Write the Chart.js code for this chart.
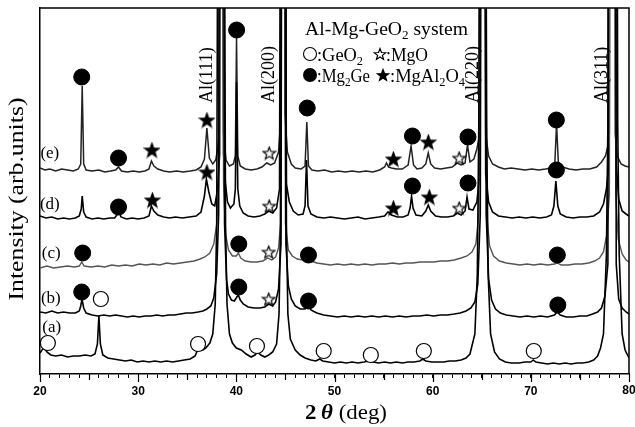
<!DOCTYPE html>
<html><head><meta charset="utf-8">
<script src="https://cdn.jsdelivr.net/npm/chart.js@4.4.1/dist/chart.umd.min.js"></script>
<style>html,body{margin:0;padding:0;background:#fff;}#wrap{width:635px;height:427px;}</style>
</head><body><div id="wrap"><canvas id="c" width="635" height="427"></canvas></div>
<script>
// ---------- data (2θ in deg, intensity in arb. units) ----------
const traceLabels = ['(a)', '(b)', '(c)', '(d)', '(e)'];
const traceLabelTheta = [21.2, 21.1, 21.15, 21.0, 21.0];
const traceLabelLevel = [46, 75, 120, 169, 220];

const traceA = [[20.0,21],[20.2,24],[20.45,26],[20.7,22],[21.1,19],[21.6,18],[22.2,19],[22.8,17],[23.4,18],[24.0,18],[24.6,19],[25.2,18],[25.6,20],[25.85,30],[26.0,58],[26.15,30],[26.4,19],[26.9,16],[27.5,15],[28.1,14],[28.7,13],[29.3,14],[29.9,12],[30.5,13],[31.1,12],[31.7,13],[32.3,12],[32.9,13],[33.5,12],[34.1,13],[34.7,14],[35.3,15],[35.8,18],[36.1,25],[36.3,27],[36.6,24],[36.9,26],[37.3,31],[37.6,40],[37.85,70],[38.0,150],[38.45,1500],[38.9,150],[39.05,70],[39.3,40],[39.6,31],[40.0,26],[40.5,24],[41.0,20],[41.5,17],[41.9,19],[42.15,22],[42.5,19],[42.9,17],[43.3,19],[43.7,22],[44.1,30],[44.35,60],[44.5,150],[44.8,1500],[45.1,150],[45.25,60],[45.5,35],[46.0,24],[46.5,19],[47.0,16],[47.6,14],[48.1,13],[48.5,15],[48.8,13],[49.4,12],[50.0,11],[50.6,12],[51.2,11],[51.8,12],[52.4,11],[53.0,12],[53.5,13],[53.9,12],[54.5,11],[55.1,12],[55.7,11],[56.3,12],[56.9,11],[57.5,12],[58.1,12],[58.7,13],[59.0,15],[59.3,13],[59.9,12],[60.5,12],[61.1,12],[61.7,13],[62.3,13],[62.9,14],[63.4,16],[63.8,20],[64.3,40],[64.55,100],[64.7,250],[65.1,1500],[65.5,250],[65.65,100],[65.9,40],[66.3,22],[66.8,15],[67.4,12],[68.0,11],[68.8,11],[69.4,12],[70.0,12],[70.25,14],[70.5,12],[71.1,11],[71.7,10],[72.3,11],[72.9,10],[73.5,11],[74.1,10],[74.7,11],[75.3,11],[75.9,12],[76.4,14],[76.8,18],[77.1,26],[77.4,40],[77.7,120],[77.85,250],[78.2,1500],[78.55,1500],[78.85,250],[79.0,120],[79.3,40],[79.6,24],[80.0,16]];

const traceB = [[20.0,62],[20.6,61],[21.2,63],[21.8,61],[22.4,62],[23.0,61],[23.6,61],[24.0,63],[24.15,68],[24.28,75],[24.45,66],[24.7,61],[25.3,59],[25.9,58],[26.5,59],[27.1,58],[27.7,59],[28.3,58],[28.9,57],[29.5,58],[30.1,57],[30.7,58],[31.3,58],[31.9,59],[32.5,58],[33.1,59],[33.7,59],[34.3,60],[34.9,61],[35.5,61],[36.1,62],[36.6,63],[37.0,65],[37.4,68],[37.7,76],[38.0,100],[38.2,160],[38.5,1500],[38.8,150],[39.0,95],[39.2,80],[39.5,74],[39.8,73],[40.05,77],[40.2,79],[40.4,74],[40.7,70],[41.2,67],[41.8,66],[42.4,66],[42.9,67],[43.3,70],[43.7,68],[44.0,72],[44.3,85],[44.55,130],[44.8,1500],[45.05,130],[45.3,88],[45.6,75],[46.0,68],[46.5,65],[47.0,65],[47.3,70],[47.6,64],[48.2,61],[48.9,59],[49.6,58],[50.3,57],[51.0,58],[51.7,57],[52.4,58],[53.1,57],[53.8,58],[54.5,57],[55.2,58],[55.9,57],[56.6,58],[57.3,57],[58.0,58],[58.7,58],[59.4,59],[60.1,58],[60.8,59],[61.5,59],[62.2,60],[62.8,61],[63.4,63],[63.9,66],[64.3,72],[64.6,90],[64.85,160],[65.15,1500],[65.45,160],[65.7,95],[66.0,74],[66.4,65],[66.9,61],[67.5,59],[68.2,58],[68.9,57],[69.6,58],[70.3,57],[71.0,58],[71.7,57],[72.4,59],[72.7,62],[73.0,59],[73.6,57],[74.3,57],[75.0,58],[75.7,58],[76.3,60],[76.8,62],[77.2,66],[77.55,78],[77.85,110],[78.05,1500],[78.45,1500],[78.7,110],[78.95,75],[79.3,66],[79.7,62],[80.0,60]];

const traceC = [[20.0,106],[20.7,108],[21.4,106],[22.1,107],[22.8,108],[23.5,107],[24.0,108],[24.25,112],[24.5,108],[25.2,107],[25.9,108],[26.6,107],[27.3,109],[28.0,108],[28.7,109],[29.4,108],[30.1,110],[30.8,109],[31.5,110],[32.2,109],[32.9,111],[33.6,110],[34.3,111],[35.0,112],[35.7,113],[36.3,115],[36.8,117],[37.3,121],[37.7,130],[38.0,150],[38.2,190],[38.45,1500],[38.7,190],[38.9,140],[39.2,124],[39.6,118],[40.0,118],[40.2,121],[40.45,116],[40.9,113],[41.5,112],[42.1,112],[42.7,113],[43.2,116],[43.6,114],[44.0,117],[44.3,126],[44.5,150],[44.75,1500],[45.0,150],[45.3,124],[45.7,118],[46.2,115],[46.8,114],[47.2,116],[47.6,113],[48.2,111],[48.9,110],[49.6,109],[50.3,110],[51.0,109],[51.7,110],[52.4,109],[53.1,110],[53.8,109],[54.5,110],[55.2,110],[55.9,111],[56.6,110],[57.3,111],[58.0,111],[58.7,112],[59.4,112],[60.1,112],[60.8,113],[61.5,113],[62.2,114],[62.9,116],[63.5,118],[64.0,122],[64.4,130],[64.7,160],[65.1,1500],[65.5,160],[65.8,128],[66.2,118],[66.8,113],[67.5,111],[68.2,110],[68.9,109],[69.6,110],[70.3,109],[71.0,110],[71.7,109],[72.4,110],[72.7,111],[73.1,109],[73.8,109],[74.5,110],[75.2,110],[75.9,111],[76.5,113],[77.0,116],[77.4,122],[77.75,140],[78.0,180],[78.2,1500],[78.45,1500],[78.65,180],[78.9,135],[79.3,120],[79.7,114],[80.0,112]];

const traceD = [[20.0,158],[20.6,156],[21.2,157],[21.8,155],[22.4,156],[23.0,155],[23.6,156],[24.0,158],[24.2,165],[24.3,178],[24.45,162],[24.7,157],[25.3,155],[25.9,156],[26.5,155],[27.1,156],[27.6,156],[27.9,160],[28.05,163],[28.25,157],[28.8,155],[29.4,156],[30.0,155],[30.6,156],[31.1,158],[31.35,168],[31.6,163],[32.0,159],[32.6,157],[33.2,156],[33.8,157],[34.5,156],[35.2,157],[35.9,158],[36.4,162],[36.75,178],[36.95,195],[37.2,182],[37.5,170],[37.8,168],[38.1,185],[38.3,220],[38.5,1500],[38.7,220],[38.9,190],[39.1,172],[39.4,166],[39.75,170],[39.9,185],[40.02,292],[40.15,185],[40.35,168],[40.7,161],[41.2,158],[41.8,157],[42.4,158],[42.9,160],[43.3,163],[43.7,161],[44.1,166],[44.4,185],[44.75,1500],[45.1,190],[45.4,172],[45.8,163],[46.3,159],[46.8,160],[47.0,168],[47.15,214],[47.3,168],[47.6,160],[48.2,157],[48.9,156],[49.6,157],[50.3,156],[51.0,155],[51.7,156],[52.4,157],[53.1,155],[53.8,156],[54.5,157],[55.1,158],[55.45,162],[55.8,159],[56.4,157],[57.0,157],[57.5,159],[57.7,166],[57.85,178],[58.0,166],[58.3,159],[58.9,158],[59.3,163],[59.55,169],[59.8,163],[60.3,158],[60.9,157],[61.5,157],[62.1,158],[62.5,161],[62.9,159],[63.3,163],[63.5,177],[63.7,165],[64.1,164],[64.5,172],[64.8,200],[65.1,1500],[65.4,200],[65.7,172],[66.1,162],[66.7,158],[67.4,157],[68.1,156],[68.8,157],[69.5,156],[70.2,157],[70.9,156],[71.6,157],[72.1,159],[72.35,168],[72.55,193],[72.75,168],[73.0,160],[73.6,157],[74.3,156],[75.0,157],[75.7,157],[76.4,158],[77.0,162],[77.4,170],[77.7,185],[77.95,210],[78.15,1500],[78.5,1500],[78.7,210],[78.95,175],[79.3,163],[79.7,160],[80.0,158]];

const traceE = [[20.0,206],[20.5,204],[21.0,205],[21.6,203],[22.2,205],[22.8,204],[23.4,203],[23.9,205],[24.15,210],[24.3,288],[24.45,210],[24.7,204],[25.3,203],[26.0,204],[26.6,202],[27.2,203],[27.7,204],[28.0,207],[28.3,203],[28.9,202],[29.5,203],[30.1,202],[30.7,203],[31.1,205],[31.35,213],[31.6,208],[32.0,205],[32.6,203],[33.2,202],[33.9,203],[34.6,202],[35.3,203],[35.9,204],[36.4,207],[36.75,215],[37.0,246],[37.25,216],[37.6,210],[37.9,214],[38.1,225],[38.25,240],[38.45,1500],[38.7,240],[38.95,214],[39.3,208],[39.7,210],[39.9,218],[40.02,336],[40.15,218],[40.4,208],[40.9,205],[41.5,204],[42.1,205],[42.6,207],[43.1,211],[43.5,209],[43.9,211],[44.3,222],[44.55,260],[44.75,1500],[44.95,260],[45.2,222],[45.6,210],[46.0,206],[46.6,205],[47.0,208],[47.18,252],[47.35,208],[47.7,204],[48.3,203],[49.0,204],[49.7,202],[50.4,203],[51.1,202],[51.8,203],[52.5,202],[53.2,203],[53.9,202],[54.6,204],[55.1,207],[55.3,211],[55.5,207],[55.8,206],[56.3,205],[56.9,205],[57.5,209],[57.8,228],[58.05,209],[58.4,205],[58.9,206],[59.3,210],[59.55,221],[59.8,210],[60.2,206],[60.8,205],[61.4,206],[62.0,207],[62.5,211],[62.9,209],[63.3,211],[63.55,229],[63.8,212],[64.2,215],[64.5,225],[64.8,240],[65.1,1500],[65.4,240],[65.7,218],[66.1,210],[66.7,207],[67.3,205],[68.0,206],[68.7,205],[69.4,204],[70.1,205],[70.8,204],[71.5,205],[72.1,206],[72.45,212],[72.62,250],[72.8,212],[73.2,207],[73.9,205],[74.6,204],[75.3,205],[76.0,205],[76.7,207],[77.2,212],[77.6,218],[77.85,228],[78.0,240],[78.15,1500],[78.45,1500],[78.6,240],[78.8,218],[79.2,210],[79.6,208],[80.0,207]];

// phase markers [2θ, level]
const geO2Marks = [[20.8,31],[26.2,75],[36.1,30],[42.1,28],[48.9,23],[53.7,19],[59.1,23],[70.3,23]];
const mgOMarks = [[43.35,221],[62.7,216],[43.35,168],[62.7,166],[43.3,122],[43.3,75]];
const mg2GeMarks = [[24.25,297],[28.0,216],[40.03,344],[47.22,266],[57.94,238],[63.6,237],[72.6,254],[28.0,167],[57.94,188],[63.6,191],[72.6,204],[24.35,121],[40.25,130],[47.35,119],[72.7,119],[24.25,82],[40.25,87],[47.35,73],[72.75,69]];
const mgAl2O4Marks = [[31.4,224],[37.0,254],[56.0,215],[59.56,232],[31.45,174],[37.0,202],[56.0,166],[59.66,177]];

const alLabels = ['Al(111)', 'Al(200)', 'Al(220)', 'Al(311)'];
const alLabelTheta = [37.0, 43.4, 64.1, 77.3];

const xMin = 20, xMax = 80;
const xTickStep = 1;
const xLabelEvery = 10;

// ---------- helpers ----------
function starCanvas(size, filled) {
  const c = document.createElement('canvas');
  c.width = size; c.height = size;
  const g = c.getContext('2d');
  const R = size / 2 - 1, r = R * 0.42;
  const cx = size / 2, cy = size / 2 + R * (1 - Math.cos(Math.PI / 5)) / 2;
  g.beginPath();
  for (let i = 0; i < 10; i++) {
    const a = -Math.PI / 2 + i * Math.PI / 5;
    const rr = i % 2 ? r : R;
    const px = cx + rr * Math.cos(a), py = cy + rr * Math.sin(a);
    if (i === 0) g.moveTo(px, py); else g.lineTo(px, py);
  }
  g.closePath();
  g.fillStyle = filled ? '#000' : '#fff';
  g.fill();
  g.lineWidth = 1.2; g.strokeStyle = '#000'; g.stroke();
  return c;
}
const starFilled = starCanvas(17, true);
const starOpen = starCanvas(15, false);
const starFilledSmall = starCanvas(14, true);
const starOpenSmall = starCanvas(14, false);

const toXY = arr => arr.map(p => ({x: p[0], y: p[1]}));

function traceSet(label, arr, color, w) {
  return {label, data: toXY(arr), borderColor: color, borderWidth: w, pointRadius: 0,
          tension: 0, fill: false, showLine: true, order: 2};
}
function markSet(label, arr, style) {
  return Object.assign({label, data: toXY(arr), showLine: false, order: 1}, style);
}

const SERIF = '"Liberation Serif", "Times New Roman", serif';

function richWidth(ctx, parts) {
  let w = 0;
  for (const p of parts) { ctx.font = p.f; w += ctx.measureText(p.t).width; }
  return w;
}
function drawRich(ctx, parts, x, y) {
  let cx = x;
  for (const p of parts) {
    ctx.font = p.f;
    ctx.fillText(p.t, cx, y + (p.dy || 0));
    cx += ctx.measureText(p.t).width;
  }
}
function drawRichFit(ctx, parts, x, y, width) {
  const w = richWidth(ctx, parts);
  ctx.save();
  ctx.translate(x, y);
  ctx.scale(width / w, 1);
  drawRich(ctx, parts, 0, 0);
  ctx.restore();
}

const F18 = '18px ' + SERIF, F12 = '12px ' + SERIF;
const legendLine1 = [{t:'Al-Mg-GeO', f:F18}, {t:'2', f:F12, dy:4}, {t:' system', f:F18}];
const legendGeO2 = [{t:':GeO', f:F18}, {t:'2', f:F12, dy:4}];
const legendMgO = [{t:':MgO', f:F18}];
const legendMg2Ge = [{t:':Mg', f:F18}, {t:'2', f:F12, dy:4}, {t:'Ge', f:F18}];
const legendMgAl2O4 = [{t:':MgAl', f:F18}, {t:'2', f:F12, dy:4}, {t:'O', f:F18}, {t:'4', f:F12, dy:4}];

const decor = {
  id: 'decor',
  afterDraw(chart) {
    const {ctx, chartArea: ca, scales: {x, y}} = chart;
    ctx.save();
    ctx.strokeStyle = '#000'; ctx.fillStyle = '#000';
    // frame top & right
    ctx.lineWidth = 1.5;
    ctx.beginPath();
    ctx.moveTo(ca.left, ca.top); ctx.lineTo(ca.right, ca.top); ctx.lineTo(ca.right, ca.bottom);
    ctx.stroke();
    // longer ticks at 5 and 10
    ctx.lineWidth = 1.2;
    for (let v = xMin; v <= xMax; v += 5) {
      const px = Math.round(x.getPixelForValue(v)) + 0.5;
      const len = v % 10 === 0 ? 8 : 6;
      ctx.beginPath(); ctx.moveTo(px, ca.bottom); ctx.lineTo(px, ca.bottom + len); ctx.stroke();
    }
    // last tick label, sitting on the canvas edge as in the original
    ctx.font = 'bold 12px "Liberation Sans", Arial, sans-serif';
    ctx.textAlign = 'center'; ctx.textBaseline = 'middle';
    ctx.fillText(String(xMax), x.getPixelForValue(xMax), ca.bottom + 17);
    // trace labels
    ctx.font = '17px ' + SERIF; ctx.textAlign = 'center'; ctx.textBaseline = 'middle';
    traceLabels.forEach((t, i) => {
      ctx.fillText(t, x.getPixelForValue(traceLabelTheta[i]), y.getPixelForValue(traceLabelLevel[i]));
    });
    // Al peak labels (rotated)
    alLabels.forEach((t, i) => {
      ctx.save();
      ctx.translate(x.getPixelForValue(alLabelTheta[i]), 103);
      ctx.rotate(-Math.PI / 2);
      ctx.font = '18px ' + SERIF; ctx.textAlign = 'left'; ctx.textBaseline = 'middle';
      ctx.fillText(t, 0, 0);
      ctx.restore();
    });
    // legend block
    ctx.textAlign = 'left'; ctx.textBaseline = 'alphabetic';
    drawRichFit(ctx, legendLine1, 305, 35, 163);
    // line 2
    ctx.lineWidth = 1.1;
    ctx.beginPath(); ctx.arc(310, 54, 6.5, 0, Math.PI * 2); ctx.fillStyle = '#fff'; ctx.fill(); ctx.stroke();
    ctx.fillStyle = '#000';
    drawRichFit(ctx, legendGeO2, 317, 61, 46);
    ctx.drawImage(starOpenSmall, 380 - 7, 54 - 7);
    drawRichFit(ctx, legendMgO, 386, 61, 42);
    // line 3
    ctx.beginPath(); ctx.arc(310, 75, 7, 0, Math.PI * 2); ctx.fill();
    drawRichFit(ctx, legendMg2Ge, 317, 82, 53);
    ctx.drawImage(starFilledSmall, 383 - 7, 75 - 7);
    drawRichFit(ctx, legendMgAl2O4, 390, 82, 75);
    // y title
    ctx.save();
    ctx.translate(17, 199); ctx.rotate(-Math.PI / 2);
    ctx.font = '21px ' + SERIF; ctx.textAlign = 'center'; ctx.textBaseline = 'middle';
    const yt = 'Intensity (arb.units)';
    const yw = ctx.measureText(yt).width;
    ctx.scale(203 / yw, 1);
    ctx.fillText(yt, 0, 0);
    ctx.restore();
    // x title
    const xt = [{t:'2', f:'bold 20px ' + SERIF}, {t:'\u2009', f:'20px ' + SERIF}, {t:'\u03B8', f:'italic bold 20px ' + SERIF}, {t:' (deg)', f:'20px ' + SERIF}];
    ctx.textAlign = 'left'; ctx.textBaseline = 'alphabetic';
    drawRichFit(ctx, xt, 305, 419, 82);
    ctx.restore();
  }
};

new Chart(document.getElementById('c'), {
  type: 'line',
  data: {
    datasets: [
      traceSet(traceLabels[0], traceA, '#000', 1.6),
      traceSet(traceLabels[1], traceB, '#000', 1.6),
      traceSet(traceLabels[2], traceC, '#555', 1.4),
      traceSet(traceLabels[3], traceD, '#000', 1.6),
      traceSet(traceLabels[4], traceE, '#222', 1.5),
      markSet('GeO2', geO2Marks, {pointStyle: 'circle', pointRadius: 7.5, pointBackgroundColor: '#fff', pointBorderColor: '#000', pointBorderWidth: 1.2}),
      markSet('MgO', mgOMarks, {pointStyle: starOpen, pointRadius: 7}),
      markSet('Mg2Ge', mg2GeMarks, {pointStyle: 'circle', pointRadius: 8, pointBackgroundColor: '#000', pointBorderColor: '#000', pointBorderWidth: 1}),
      markSet('MgAl2O4', mgAl2O4Marks, {pointStyle: starFilled, pointRadius: 8})
    ]
  },
  options: {
    responsive: false,
    animation: false,
    devicePixelRatio: 1,
    events: [],
    layout: {autoPadding: false, padding: {top: 8, right: 3, left: 0, bottom: 0}},
    plugins: {legend: {display: false}, tooltip: {enabled: false}},
    scales: {
      x: {
        type: 'linear', min: xMin, max: xMax,
        afterFit(s) { s.height = 53; },
        ticks: {stepSize: xTickStep, autoSkip: false, maxRotation: 0, padding: 6, color: '#000',
                font: {family: '"Liberation Sans", Arial, sans-serif', weight: 'bold', size: 12},
                callback: v => (v % xLabelEvery === 0 && v !== xMax ? String(v) : '')},
        grid: {display: true, drawOnChartArea: false, drawTicks: true, tickLength: 4, tickColor: '#000', tickWidth: 1},
        border: {display: true, color: '#000', width: 1.5}
      },
      y: {
        type: 'linear', min: 0, max: 366,
        afterFit(s) { s.width = 40; },
        ticks: {display: false},
        grid: {display: false},
        border: {display: true, color: '#000', width: 1.5}
      }
    }
  },
  plugins: [decor]
});
</script></body></html>
